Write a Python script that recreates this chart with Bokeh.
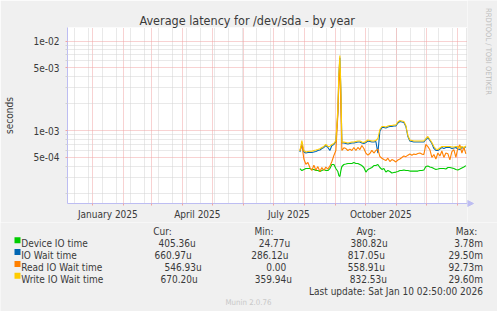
import math
import datetime as dt
from bokeh.plotting import figure
from bokeh.layouts import column, row
from bokeh.models import (Range1d, FixedTicker, CustomJSTickFormatter, DatetimeTickFormatter,
                          ColumnDataSource)
from bokeh.core.properties import value
from bokeh.embed import file_html
from bokeh.resources import INLINE

# ---------------- data ----------------
title_text = "Average latency for /dev/sda - by year"
y_axis_label = "seconds"
series_names = ["Device IO time", "IO Wait time", "Read IO Wait time", "Write IO Wait time"]
series_colors = ["#00CC00", "#0066B3", "#FF8000", "#FFCC00"]
cur_values = ["405.36u", "660.97u", "546.93u", "670.20u"]
min_values = ["24.77u", "286.12u", "0.00", "359.94u"]
avg_values = ["380.82u", "817.05u", "558.91u", "832.53u"]
max_values = ["3.78m", "29.50m", "92.73m", "29.60m"]
col_headers = ["Cur:", "Min:", "Avg:", "Max:"]
last_update = "Last update: Sat Jan 10 02:50:00 2026"
version_text = "Munin 2.0.76"
watermark = "RRDTOOL / TOBI OETIKER"
y_major_ticks = [5e-4, 1e-3, 5e-3, 1e-2]
y_minor_ticks = [2e-4, 3e-4, 4e-4, 6e-4, 7e-4, 8e-4, 9e-4,
                 2e-3, 3e-3, 4e-3, 6e-3, 7e-3, 8e-3, 9e-3]
x_label_months = [(2025, 1), (2025, 4), (2025, 7), (2025, 10)]

data_start = dt.datetime(2025, 7, 27, 12, 0)
day_offsets = list(range(0, 37, 2)) + [38, 39, 40, 41] + list(range(42, 167, 2))

# values in microseconds
device_us = [376, 357, 367, 376, 376, 376, 367, 367, 357, 357, 348, 357, 367, 357, 357, 376, 417, 417, 376,
             348, 314, 306, 357,
             396, 417, 422, 428, 428, 428, 439, 428, 428, 417, 406, 386, 343, 367, 376, 386, 406, 406, 417, 386,
             367, 376, 343, 357, 348, 335, 339, 343, 348, 357, 357, 362, 357, 357, 352, 352, 352, 352, 352, 357,
             357, 362, 396, 401, 391, 386, 376, 367, 371, 376, 376, 376, 371, 386, 386, 381, 376, 367, 362, 371,
             381, 391, 405]
iowait_us = [575, 700, 575, 560, 568, 568, 568, 575, 582, 598, 605, 630, 646, 680, 646, 598, 680, 698, 754,
             1600, 4200, 6500, 2800,
             725, 725, 716, 707, 716, 725, 725, 734, 744, 744, 725, 716, 734, 763, 754, 744, 744, 754, 560, 980,
             1080, 1080, 1066, 1094, 1108, 1108, 1122, 1122, 1215, 1260, 1245, 1228, 1108, 857, 763, 754, 744, 744,
             744, 744, 744, 744, 793, 835, 773, 716, 630, 598, 598, 621, 646, 630, 646, 646, 646, 630, 638, 646,
             621, 613, 646, 630, 661]
read_us = [598, 690, 480, 420, 440, 386, 357, 410, 360, 395, 348, 385, 360, 390, 371, 400, 450, 526, 598,
           1500, 3500, 5000, 1800,
           598, 640, 629, 598, 620, 598, 646, 598, 646, 613, 680, 630, 560, 530, 553, 600, 560, 598, 620, 512,
           490, 474, 462, 490, 450, 474, 462, 445, 468, 480, 499, 520, 510, 530, 545, 530, 545, 540, 553, 560,
           545, 540, 700, 660, 610, 500, 540, 480, 560, 520, 590, 500, 560, 550, 470, 580, 610, 500, 640, 690,
           560, 650, 547]
write_us = [587, 773, 598, 575, 582, 587, 587, 598, 605, 613, 624, 646, 663, 698, 663, 663, 698, 716, 773,
            1800, 4500, 6900, 3000,
            742, 742, 734, 725, 734, 744, 744, 754, 763, 763, 744, 734, 754, 783, 773, 763, 763, 773, 814, 1026,
            1108, 1108, 1094, 1122, 1137, 1137, 1152, 1152, 1245, 1293, 1277, 1260, 1137, 880, 783, 773, 763, 763,
            763, 763, 763, 763, 814, 857, 793, 734, 663, 621, 613, 638, 663, 663, 663, 663, 663, 654, 654, 663,
            663, 629, 663, 646, 670]

# ---------------- layout constants ----------------
W, H = 497, 311
FL, FR, FT, FB = 67, 467, 27, 203   # plot area in canvas pixels
SPLIT = 222                          # canvas row where the legend block starts
FONT = "DejaVu Sans Condensed"
TXT = "#3a3a3a"
BG = "#F0F0F0"
RED = "#F0A4A4"
GRAY = "#D2D2D2"
AXC = "#BDBDF2"

range_start = dt.datetime(2024, 12, 7, 3, 0)
range_end = range_start + dt.timedelta(days=400)
# log scale: 1e-3 at row 130, 89.5 px per decade
Y_TOP = 10 ** (-3 + (130 - FT) / 89.5)
Y_BOT = 10 ** (-3 - (FB - 130) / 89.5)

EPOCH = dt.datetime(1970, 1, 1)
def ms(d):
    return (d - EPOCH).total_seconds() * 1000.0

def Y(ypx):
    """canvas pixel row -> y coordinate used by the helper figures"""
    return H - ypx

def blank_fig(x0, x1, y0, y1):
    f = figure(width=x1 - x0, height=y1 - y0, x_range=Range1d(x0, x1), y_range=Range1d(Y(y1), Y(y0)),
               output_backend="svg", toolbar_location=None, x_axis_location=None, y_axis_location=None,
               min_border=0, background_fill_color=BG, border_fill_color=BG, outline_line_color=None)
    f.xgrid.visible = False
    f.ygrid.visible = False
    return f

def put_text(f, xs, ys, texts, size, color=TXT, align="left", baseline="alphabetic", angle=0.0):
    f.text(x=xs, y=[Y(v) for v in ys], text=texts, text_font=value(FONT),
           text_font_size=value(f"{size}px"), text_color=color, text_align=align,
           text_baseline=baseline, angle=angle)

# ---------------- main plot ----------------
dates = [data_start + dt.timedelta(days=o) for o in day_offsets]
series_values = [device_us, iowait_us, read_us, write_us]
src = ColumnDataSource(dict(
    t=dates,
    **{f"s{i}": [v * 1e-6 for v in vals] for i, vals in enumerate(series_values)}
))

p = figure(width=FR, height=SPLIT, x_axis_type="datetime", y_axis_type="log",
           x_range=Range1d(range_start, range_end), y_range=Range1d(Y_BOT, Y_TOP),
           title=title_text, output_backend="svg", toolbar_location=None,
           min_border_left=FL, min_border_right=0, min_border_top=FT, min_border_bottom=SPLIT - FB,
           background_fill_color="white", border_fill_color=BG, outline_line_color=None)
p.title.align = "left"
p.title.offset = 139 - FL
p.title.standoff = 0
p.title.vertical_align = "bottom"
p.title.text_font = FONT
p.title.text_font_size = "12.5px"
p.title.text_font_style = "normal"
p.title.text_color = TXT

month_starts = []
yy, mm = 2024, 12
while True:
    d = dt.datetime(yy, mm, 1)
    if d > range_end:
        break
    if d >= range_start:
        month_starts.append(ms(d))
    mm += 1
    if mm > 12:
        mm = 1
        yy += 1
biweekly = []
d = dt.datetime(2024, 12, 14, 12, 0)
while d < range_end:
    biweekly.append(ms(d))
    d += dt.timedelta(days=14)

mid_months = []
for (y_, m_) in x_label_months:
    a = dt.datetime(y_, m_, 1)
    b = dt.datetime(y_ + (m_ // 12), m_ % 12 + 1, 1)
    mid_months.append(ms(a + (b - a) / 2))

p.xgrid.ticker = FixedTicker(ticks=month_starts, minor_ticks=biweekly)
p.xgrid.grid_line_color = RED
p.xgrid.grid_line_dash = "1 1"
p.xgrid.minor_grid_line_color = GRAY
p.xgrid.minor_grid_line_dash = "1 1"

p.ygrid.ticker = FixedTicker(ticks=y_major_ticks, minor_ticks=y_minor_ticks)
p.ygrid.grid_line_color = RED
p.ygrid.grid_line_dash = "1 1"
p.ygrid.minor_grid_line_color = GRAY
p.ygrid.minor_grid_line_dash = "1 1"

xa = p.xaxis[0]
xa.ticker = FixedTicker(ticks=mid_months, minor_ticks=month_starts)
xa.formatter = DatetimeTickFormatter(days="%B %Y", months="%B %Y", years="%B %Y", hours="%B %Y")
xa.major_tick_line_color = None
xa.major_tick_out = 0
xa.major_tick_in = 0
xa.minor_tick_line_color = RED
xa.minor_tick_out = 2
xa.minor_tick_in = 0
xa.axis_line_color = AXC
xa.major_label_standoff = 3
xa.major_label_text_font = FONT
xa.major_label_text_font_size = "10px"
xa.major_label_text_color = TXT

ya = p.yaxis[0]
ya.ticker = FixedTicker(ticks=y_major_ticks, minor_ticks=y_minor_ticks)
ya.formatter = CustomJSTickFormatter(code=r"""
const s = tick.toExponential(0);
return s.replace(/e([+-])(\d)$/, (m, a, b) => 'e' + a + '0' + b);
""")
ya.major_tick_line_color = RED
ya.major_tick_out = 2
ya.major_tick_in = 0
ya.minor_tick_line_color = GRAY
ya.minor_tick_out = 2
ya.minor_tick_in = 0
ya.axis_line_color = AXC
ya.major_label_standoff = 6
ya.major_label_text_font = FONT
ya.major_label_text_font_size = "10px"
ya.major_label_text_color = TXT
ya.axis_label = y_axis_label
ya.axis_label_text_font = FONT
ya.axis_label_text_font_size = "10px"
ya.axis_label_text_font_style = "normal"
ya.axis_label_text_color = TXT
ya.axis_label_standoff = 16

for i, c in enumerate(series_colors):
    p.line("t", f"s{i}", source=src, line_color=c, line_width=1.1)

# ---------------- right strip (watermark + x arrow) ----------------
rs = blank_fig(FR, W, 0, SPLIT)
put_text(rs, [487.5], [51], [watermark], 7.5, color="#BDBDBD", align="center",
         baseline="middle", angle=-math.pi / 2)
rs.patch(x=[FR, FR, 473], y=[Y(200), Y(206), Y(203)], fill_color=AXC, line_color=AXC)

# ---------------- legend block (bottom) ----------------
lg = blank_fig(0, W, SPLIT, H)
row_base = [243.3, 255.1, 266.8, 278.6]
sq_top = [236.8, 248.6, 260.4, 272.2]
cur_x = [158, 154, 164, 160]
min_x = [258.3, 250.7, 265.7, 254.3]
avg_x = [350, 347.3, 347.3, 349.3]
lg.quad(left=[14] * 4, right=[20] * 4, top=[Y(v) for v in sq_top], bottom=[Y(v + 6) for v in sq_top],
        fill_color=series_colors, line_color=None)
put_text(lg, [20.7] * 4, row_base, series_names, 10)
put_text(lg, cur_x, row_base, cur_values, 10)
put_text(lg, min_x, row_base, min_values, 10)
put_text(lg, avg_x, row_base, avg_values, 10)
put_text(lg, [482.5] * 4, row_base, max_values, 10, align="right")
put_text(lg, [152.7, 254, 356], [230.7] * 3, col_headers[:3], 10)
put_text(lg, [476.8], [230.7], col_headers[3:], 10, align="right")
put_text(lg, [482.5], [290.7], [last_update], 10, align="right")
put_text(lg, [248], [301.7], [version_text], 7.8, color="#C8C8C8", align="center")

layout = column(row(column(p), column(rs)), lg)
open("out.html", "w").write(file_html(layout, INLINE))
